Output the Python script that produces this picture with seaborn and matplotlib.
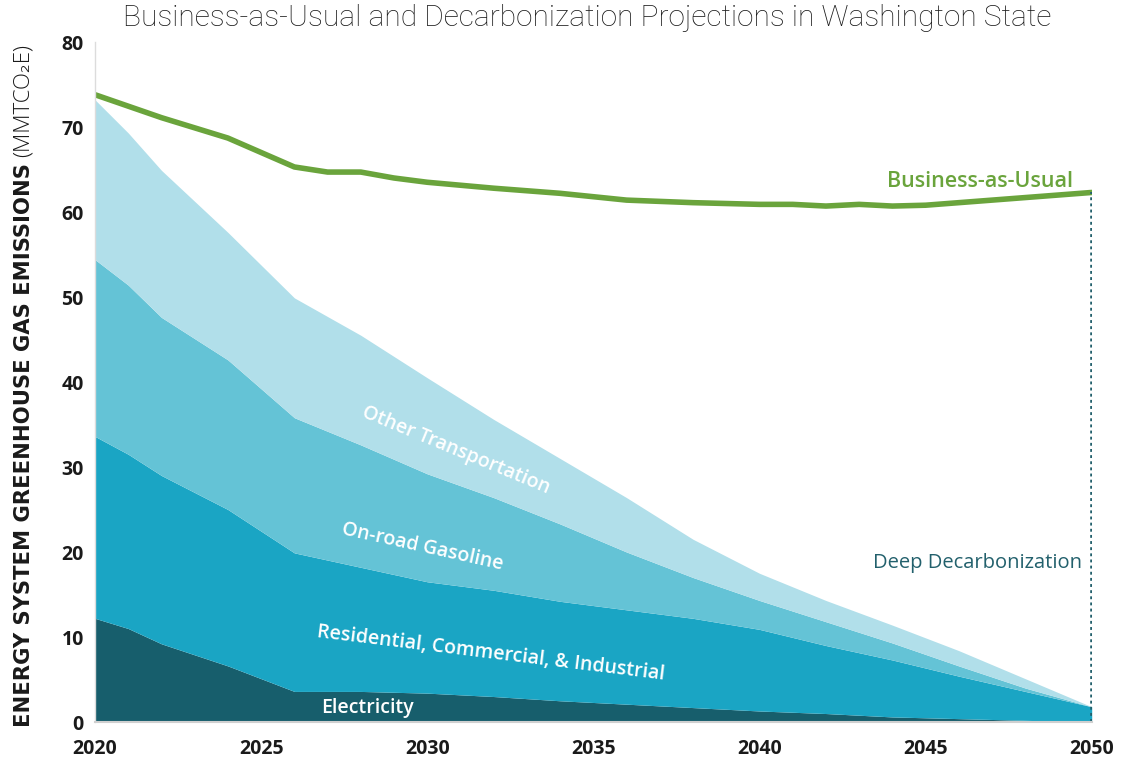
import numpy as np
import pandas as pd
import matplotlib
matplotlib.use("Agg")
import matplotlib.pyplot as plt
import seaborn as sns

# values (MMTCO2e)
years = [2020, 2021, 2022, 2024, 2026, 2028, 2030, 2032, 2034, 2036,
         2038, 2040, 2042, 2044, 2046, 2048, 2050]
electricity = [12.2, 11.0, 9.2, 6.6, 3.6, 3.6, 3.4, 3.0, 2.5, 2.1,
               1.7, 1.3, 1.0, 0.6, 0.4, 0.2, 0.0]
rci = [21.4, 20.5, 19.8, 18.4, 16.3, 14.6, 13.1, 12.5, 11.7, 11.1,
       10.5, 9.6, 8.0, 6.7, 5.0, 3.4, 1.8]
gasoline = [20.8, 19.9, 18.6, 17.6, 15.9, 14.4, 12.7, 10.9, 9.1, 6.8,
            4.8, 3.4, 2.8, 2.0, 1.2, 0.4, 0.0]
other_transport = [18.8, 17.9, 17.3, 15.0, 14.1, 12.9, 11.3, 9.2, 7.7, 6.4,
                   4.5, 3.2, 2.5, 2.1, 1.8, 1.1, 0.0]

bau_years = [2020, 2022, 2023, 2024, 2025, 2026, 2027, 2028, 2029, 2030,
             2032, 2034, 2036, 2038, 2040, 2041, 2042, 2043, 2044, 2045,
             2046, 2048, 2050]
bau = [73.8, 71.1, 69.9, 68.7, 67.0, 65.3, 64.7, 64.7, 64.0, 63.5,
       62.8, 62.2, 61.4, 61.1, 60.9, 60.9, 60.7, 60.9, 60.7, 60.8,
       61.1, 61.7, 62.3]

sector_names = ["Electricity", "Residential, Commercial, & Industrial",
                "On-road Gasoline", "Other Transportation"]
sector_colors = ["#175e6c", "#1aa5c4", "#64c3d6", "#b1dfea"]
green = "#6aa43c"
teal_text = "#22606c"

sns.set_theme(style="white")
plt.rcParams["font.family"] = ["Open Sans", "DejaVu Sans"]

fig = plt.figure(figsize=(11.22, 7.61), dpi=100)
ax = fig.add_axes([0.0847, 0.0512, 0.8883, 0.8936])

ax.stackplot(years, electricity, rci, gasoline, other_transport,
             colors=sector_colors, linewidth=0)

bau_df = pd.DataFrame({"year": bau_years, "mmt": bau})
sns.lineplot(data=bau_df, x="year", y="mmt", color=green, linewidth=4, ax=ax)

# dotted drop line at 2050
ax.vlines(bau_years[-1], 0, bau[-1], colors=teal_text, linestyles=(0, (0.8, 0.9)),
          linewidth=2.6)

ax.set_xlim(2020, 2050)
ax.set_ylim(0, 80)
ax.set_xticks(range(2020, 2051, 5))
ax.set_yticks(range(0, 81, 10))
ax.set_xlabel("")
ax.set_ylabel("")
ax.tick_params(axis="both", length=0, labelsize=14, colors="#1a1a1a")
ax.tick_params(axis="x", pad=12)
ax.tick_params(axis="y", pad=8)
for lab in ax.get_xticklabels() + ax.get_yticklabels():
    lab.set_fontweight("bold")
for s in ["top", "right"]:
    ax.spines[s].set_visible(False)
ax.spines["left"].set_color("#dcdcdc")
ax.spines["bottom"].set_color("#d0d0d0")
ax.spines["left"].set_linewidth(1)
ax.spines["bottom"].set_linewidth(1.5)

# labels on areas
lab_kw = dict(color="white", fontsize=14, fontweight="semibold",
              ha="center", va="center", rotation_mode="anchor")
ax.text(2030.85, 32.0, "Other Transportation", rotation=-22.5, **lab_kw)
ax.text(2029.85, 20.6, "On-road Gasoline", rotation=-12.5, **lab_kw)
ax.text(2031.9, 8.1, "Residential, Commercial, & Industrial", rotation=-7, **lab_kw)
ax.text(2028.2, 1.65, "Electricity", rotation=0, **lab_kw)

ax.text(2049.45, 63.6, "Business-as-Usual", color=green, fontsize=15.5,
        fontweight="semibold", ha="right", va="center")
ax.text(2049.7, 18.7, "Deep Decarbonization", color=teal_text, fontsize=14.5,
        fontweight="medium", ha="right", va="center")

fig.text(0.523, 0.977, "Business-as-Usual and Decarbonization Projections in Washington State",
         ha="center", va="center", fontsize=21.5, family=["Roboto", "DejaVu Sans"],
         fontweight="light", color="#1a1a1a")

# y label in two weights, second part placed right after the first
ylab = fig.text(0.021, 1 - 727 / 761, "ENERGY SYSTEM GREENHOUSE GAS EMISSIONS", rotation=90,
                ha="center", va="bottom", fontsize=15.2, family=["DejaVu Sans"],
                fontweight="bold", color="#1a1a1a")
fig.canvas.draw()
bb = ylab.get_window_extent(renderer=fig.canvas.get_renderer())
top = bb.y1 / fig.bbox.height + 6 / 761
fig.text(0.021, top, "(MMTCO\u2082E)", rotation=90,
         ha="center", va="bottom", fontsize=16, fontweight="light", color="#1a1a1a")

fig.savefig("out.png", dpi=100)
